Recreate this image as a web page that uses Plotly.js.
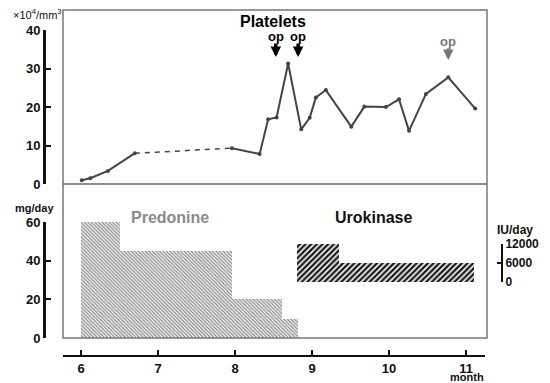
<!DOCTYPE html>
<html><head><meta charset="utf-8">
<script src="https://cdn.plot.ly/plotly-3.0.1.min.js"></script>
<style>html,body{margin:0;padding:0;background:#fff}#chart{width:550px;height:383px}</style>
</head><body><div id="chart"></div>
<script>
// ---- data ----
const plateletMonths = [6.01, 6.12, 6.35, 6.70, 7.96, 8.32, 8.43, 8.54, 8.69, 8.86, 8.97, 9.05, 9.18, 9.51, 9.68, 9.96, 10.13, 10.26, 10.48, 10.77, 11.12];
const plateletValues = [1.0, 1.5, 3.4, 8.0, 9.3, 7.8, 16.8, 17.3, 31.3, 14.2, 17.2, 22.5, 24.4, 14.9, 20.1, 20.0, 22.0, 13.8, 23.4, 27.7, 19.6];
const dashedGap = [3, 4]; // indices joined by a dashed segment
const predStart = [6.0, 6.5, 7.96, 8.61];
const predEnd   = [6.5, 7.96, 8.61, 8.82];
const predDose  = [60, 45, 20, 10];
const uroStart = [8.81, 9.35];
const uroEnd   = [9.35, 11.11];
const uroDose  = [12000, 6000];
const opMonths = [8.53, 8.82, 10.77];
const monthTicks = [6, 7, 8, 9, 10, 11];
const plateletTicks = [0, 10, 20, 30, 40];
const doseTicks = [0, 20, 40, 60];
const uroTicks = [0, 6000, 12000];

// ---- layout helpers (pixel geometry) ----
const W = 550, H = 383;
const M = {l: 44, r: 40, t: 10, b: 27};
const pw = W - M.l - M.r, ph = H - M.t - M.b;
const PX = x => (x - M.l) / pw;
const PY = y => (H - M.b - y) / ph;

const FONT = 'Liberation Sans, Arial, sans-serif';
const lineCol = '#444';

const traces = [];
const s1 = dashedGap[0], s2 = dashedGap[1];
traces.push({x: plateletMonths.slice(0, s1 + 1), y: plateletValues.slice(0, s1 + 1), xaxis: 'x', yaxis: 'y',
  mode: 'lines+markers', line: {color: lineCol, width: 2}, marker: {size: 4, color: lineCol}, hoverinfo: 'skip'});
traces.push({x: plateletMonths.slice(s1, s2 + 1), y: plateletValues.slice(s1, s2 + 1), xaxis: 'x', yaxis: 'y',
  mode: 'lines', line: {color: lineCol, width: 1.5, dash: '5px,5px'}, hoverinfo: 'skip'});
traces.push({x: plateletMonths.slice(s2), y: plateletValues.slice(s2), xaxis: 'x', yaxis: 'y',
  mode: 'lines+markers', line: {color: lineCol, width: 2}, marker: {size: 4, color: lineCol}, hoverinfo: 'skip'});

traces.push({type: 'bar', xaxis: 'x', yaxis: 'y2',
  x: predStart.map((s, i) => (s + predEnd[i]) / 2), width: predStart.map((s, i) => predEnd[i] - s), y: predDose,
  marker: {color: '#b4b4b4', line: {width: 0}, pattern: {shape: '\\', fgcolor: '#868686', size: 2.5, solidity: 0.5}}, hoverinfo: 'skip'});
traces.push({type: 'bar', xaxis: 'x', yaxis: 'y3',
  x: uroStart.map((s, i) => (s + uroEnd[i]) / 2), width: uroStart.map((s, i) => uroEnd[i] - s), y: uroDose,
  marker: {color: '#ffffff', line: {width: 0}, pattern: {shape: '/', fgcolor: '#1a1a1a', bgcolor: '#fff', size: 4, solidity: 0.6}}, hoverinfo: 'skip'});

const axFont = {family: FONT, size: 13, color: '#111', weight: 700};
const layout = {
  width: W, height: H, margin: M, showlegend: false,
  paper_bgcolor: '#fff', plot_bgcolor: 'rgba(0,0,0,0)', bargap: 0,
  xaxis: {domain: [PX(63), PX(485)], range: [6 - 18 / 77, 6 + 404 / 77], anchor: 'free', position: 0,
    tickvals: monthTicks, ticktext: monthTicks.map(String), ticks: 'inside', ticklen: 5, tickwidth: 2, tickcolor: '#111',
    showline: true, linecolor: '#111', linewidth: 2, showgrid: false, zeroline: false, tickfont: axFont},
  yaxis: {domain: [PY(184), PY(30)], range: [0, 40], anchor: 'free', position: 0,
    tickvals: plateletTicks, ticks: 'inside', ticklen: 5, tickwidth: 2, tickcolor: '#111',
    showline: true, linecolor: '#111', linewidth: 2.5, showgrid: false, zeroline: false, tickfont: axFont},
  yaxis2: {domain: [PY(338), PY(222)], range: [0, 60], anchor: 'free', position: 0,
    tickvals: doseTicks, ticks: 'inside', ticklen: 5, tickwidth: 2, tickcolor: '#111',
    showline: true, linecolor: '#111', linewidth: 2.5, showgrid: false, zeroline: false, tickfont: axFont},
  yaxis3: {domain: [PY(282), PY(243.5)], range: [0, 12000], anchor: 'free', position: PX(502), side: 'right',
    tickvals: uroTicks, ticktext: ['0', '6000', '12000'], ticks: 'inside', ticklen: 4, tickwidth: 2, tickcolor: '#111',
    showline: true, linecolor: '#111', linewidth: 2, showgrid: false, zeroline: false,
    tickfont: {family: FONT, size: 12, color: '#111', weight: 700}},
  shapes: [
    {type: 'rect', xref: 'paper', yref: 'paper', x0: PX(63), x1: PX(487), y0: PY(338), y1: PY(10), line: {color: '#777', width: 1.5}},
    {type: 'line', xref: 'paper', yref: 'paper', x0: PX(63), x1: PX(487), y0: PY(184), y1: PY(184), line: {color: '#666', width: 1.5}}
  ],
  annotations: []
};
function label(xpx, ypx, text, font) {
  layout.annotations.push({xref: 'paper', yref: 'paper', x: PX(xpx), y: PY(ypx), xanchor: 'center', yanchor: 'middle',
    text: text, showarrow: false, font: Object.assign({family: FONT, color: '#111'}, font)});
}
label(273, 22, 'Platelets', {size: 16, color: '#000', weight: 700});
label(37, 14, '×10<sup>4</sup>/mm<sup>3</sup>', {size: 11});
label(34, 208, 'mg/day', {size: 11, weight: 700});
label(515, 230, 'IU/day', {size: 12, weight: 700});
label(170, 217, 'Predonine', {size: 16, color: '#8a8a8a', weight: 700});
label(373, 218, 'Urokinase', {size: 16, weight: 700});
label(467, 377, 'month', {size: 11, weight: 700});

const opTip = [57, 57, 60], opText = [36, 36, 41], opTail = [42, 42, 47], opCol = ['#000', '#000', '#777'];
opMonths.forEach((m, i) => {
  const yTip = (184 - opTip[i]) / 3.85;
  layout.annotations.push({xref: 'x', yref: 'y', x: m, y: yTip, text: '', showarrow: true,
    arrowhead: 2, arrowsize: 0.6, arrowwidth: 3.5, arrowcolor: opCol[i], ax: 0, ay: opTail[i] - opTip[i], standoff: 0});
  layout.annotations.push({xref: 'x', yref: 'paper', x: m, y: PY(opText[i]), xanchor: 'center', yanchor: 'middle',
    text: 'op', showarrow: false, font: {family: FONT, size: 13, color: opCol[i], weight: 700}});
});
Plotly.newPlot('chart', traces, layout, {staticPlot: true});
</script></body></html>
